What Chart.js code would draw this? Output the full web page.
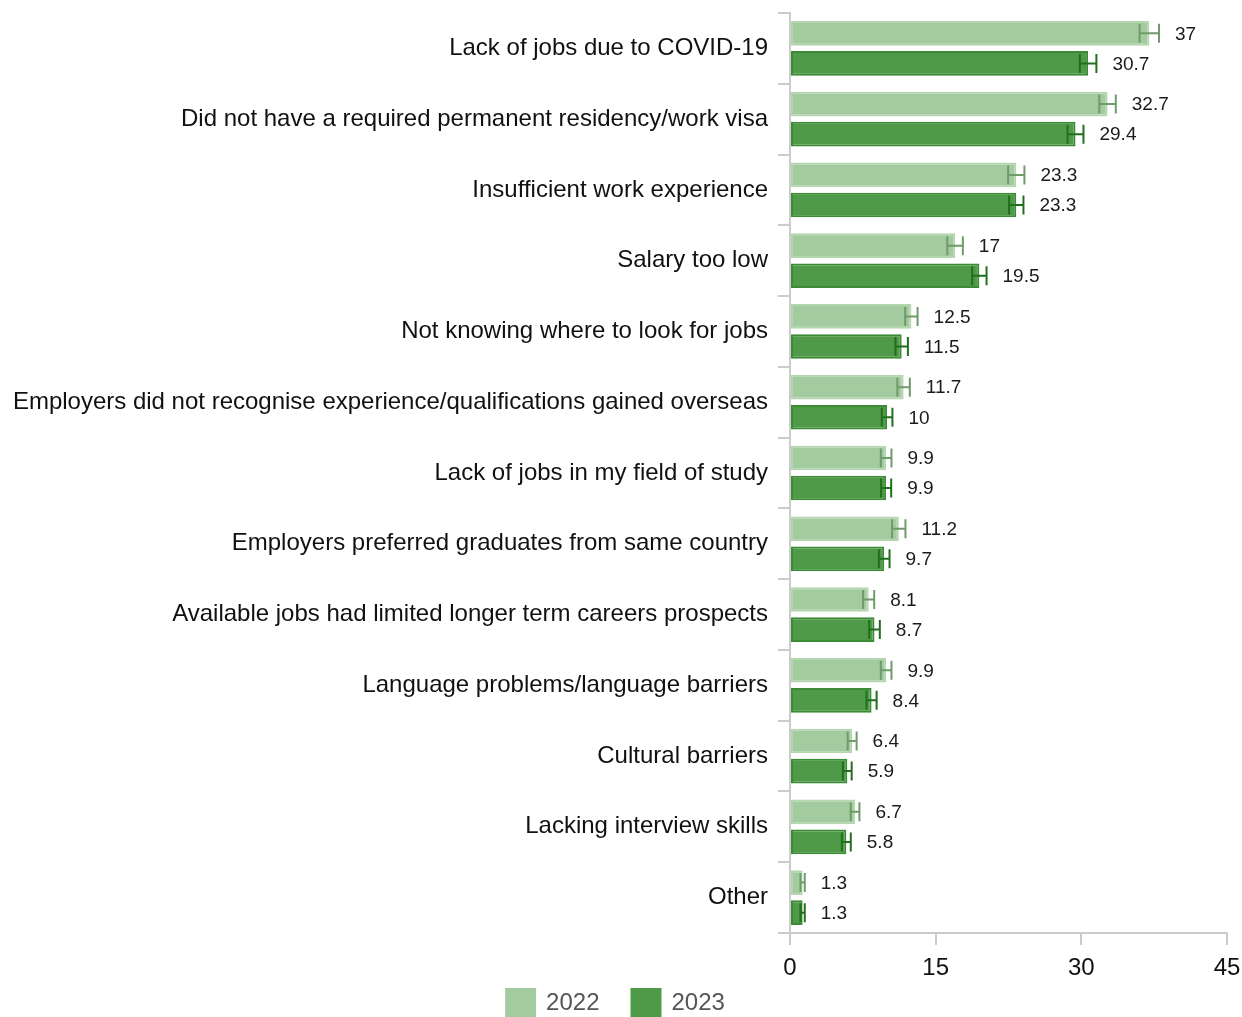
<!DOCTYPE html>
<html>
<head>
<meta charset="utf-8">
<script src="https://cdn.jsdelivr.net/npm/chart.js@4/dist/chart.umd.min.js"></script>
<style>
  html, body { margin: 0; padding: 0; background: #fff; }
  .wrap { width: 1242px; height: 1017px; position: relative; }
</style>
</head>
<body>
<div class="wrap"><canvas id="myChart"></canvas></div>
<script>
const categories = [
    "Lack of jobs due to COVID-19",
    "Did not have a required permanent residency/work visa",
    "Insufficient work experience",
    "Salary too low",
    "Not knowing where to look for jobs",
    "Employers did not recognise experience/qualifications gained overseas",
    "Lack of jobs in my field of study",
    "Employers preferred graduates from same country",
    "Available jobs had limited longer term careers prospects",
    "Language problems/language barriers",
    "Cultural barriers",
    "Lacking interview skills",
    "Other"
]
const years = ["2022", "2023"]
const values2022 = [37, 32.7, 23.3, 17, 12.5, 11.7, 9.9, 11.2, 8.1, 9.9, 6.4, 6.7, 1.3]
const values2023 = [30.7, 29.4, 23.3, 19.5, 11.5, 10, 9.9, 9.7, 8.7, 8.4, 5.9, 5.8, 1.3]
// half widths of the confidence intervals
const err2022 = [1.0, 0.85, 0.84, 0.8, 0.64, 0.64, 0.55, 0.69, 0.57, 0.55, 0.46, 0.45, 0.22]
const err2023 = [0.85, 0.82, 0.74, 0.74, 0.64, 0.55, 0.52, 0.55, 0.55, 0.52, 0.45, 0.46, 0.22]
const xTicks = [0, 15, 30, 45]

const font = "'Liberation Sans', Arial, sans-serif"
const axisGray = "#cccccc"

const errorBars = {
    id: "errorBars",
    afterDatasetsDraw(chart) {
        const { ctx, scales: { x } } = chart
        chart.data.datasets.forEach((ds, di) => {
            const meta = chart.getDatasetMeta(di)
            meta.data.forEach((bar, i) => {
                const v = ds.data[i], e = ds.errors[i]
                const lo = x.getPixelForValue(v - e), hi = x.getPixelForValue(v + e)
                const y = bar.y, cap = 9.5
                ctx.save()
                ctx.strokeStyle = ds.errorColor
                ctx.lineWidth = 2
                ctx.beginPath()
                ctx.moveTo(lo, y); ctx.lineTo(hi, y)
                ctx.moveTo(lo, y - cap); ctx.lineTo(lo, y + cap)
                ctx.moveTo(hi, y - cap); ctx.lineTo(hi, y + cap)
                ctx.stroke()
                // value label
                ctx.fillStyle = "#1a1a1a"
                ctx.font = "19px " + font
                ctx.textAlign = "left"
                ctx.textBaseline = "middle"
                ctx.fillText(String(v), hi + 16, y + 1)
                ctx.restore()
            })
        })
    }
}

const bottomLegend = {
    id: "bottomLegend",
    afterDraw(chart) {
        const { ctx } = chart
        const boxW = 31, boxH = 29, gap = 10, spacing = 31
        ctx.save()
        ctx.font = "24px " + font
        const items = chart.data.datasets.map(ds => ({ label: ds.label, color: ds.backgroundColor, w: ctx.measureText(ds.label).width }))
        const total = items.reduce((s, it) => s + boxW + gap + it.w, 0) + spacing * (items.length - 1)
        let x = (chart.width - total) / 2 - 6
        const yTop = 988
        for (const it of items) {
            ctx.fillStyle = it.color
            ctx.fillRect(x, yTop, boxW, boxH)
            ctx.fillStyle = "#555555"
            ctx.textAlign = "left"
            ctx.textBaseline = "middle"
            ctx.fillText(it.label, x + boxW + gap, yTop + boxH / 2 + 1)
            x += boxW + gap + it.w + spacing
        }
        ctx.restore()
    }
}

const ctx = document.getElementById("myChart").getContext("2d")
const myChart = new Chart(ctx, {
    type: "bar",
    data: {
        labels: categories,
        datasets: [{
            label: years[0],
            data: values2022,
            errors: err2022,
            backgroundColor: "#a4cb9f",
            borderColor: "#b4d6af",
            errorColor: "#6f9b6b",
            borderWidth: 2,
            borderSkipped: false
        }, {
            label: years[1],
            data: values2023,
            errors: err2023,
            backgroundColor: "#4f9a48",
            borderColor: "#3a8b33",
            errorColor: "#216f1c",
            borderWidth: 2,
            borderSkipped: false
        }]
    },
    options: {
        indexAxis: "y",
        responsive: true,
        maintainAspectRatio: false,
        animation: false,
        categoryPercentage: 0.85,
        barPercentage: 0.82,
        layout: { padding: { top: 13, right: 15, left: 0, bottom: 34 } },
        plugins: {
            legend: { display: false },
            tooltip: { enabled: false }
        },
        scales: {
            x: {
                min: 0,
                max: 45,
                afterBuildTicks: s => { s.ticks = xTicks.map(v => ({ value: v })) },
                afterFit: s => {
                    s.height = 50
                    s.paddingLeft = 0
                    s.paddingRight = 0
                },
                grid: { drawOnChartArea: false, tickLength: 12, color: axisGray, lineWidth: 2 },
                border: { color: axisGray, width: 2 },
                ticks: { color: "#111", padding: 9, font: { family: font, size: 24 } }
            },
            y: {
                afterFit: s => {
                    s.width = 790
                    s.paddingTop = 0
                    s.paddingBottom = 0
                },
                grid: { offset: true, drawOnChartArea: false, tickLength: 12, color: axisGray, lineWidth: 2 },
                border: { color: axisGray, width: 2 },
                ticks: { color: "#111", padding: 10, font: { family: font, size: 24 } }
            }
        }
    },
    plugins: [errorBars, bottomLegend]
})
</script>
</body>
</html>
